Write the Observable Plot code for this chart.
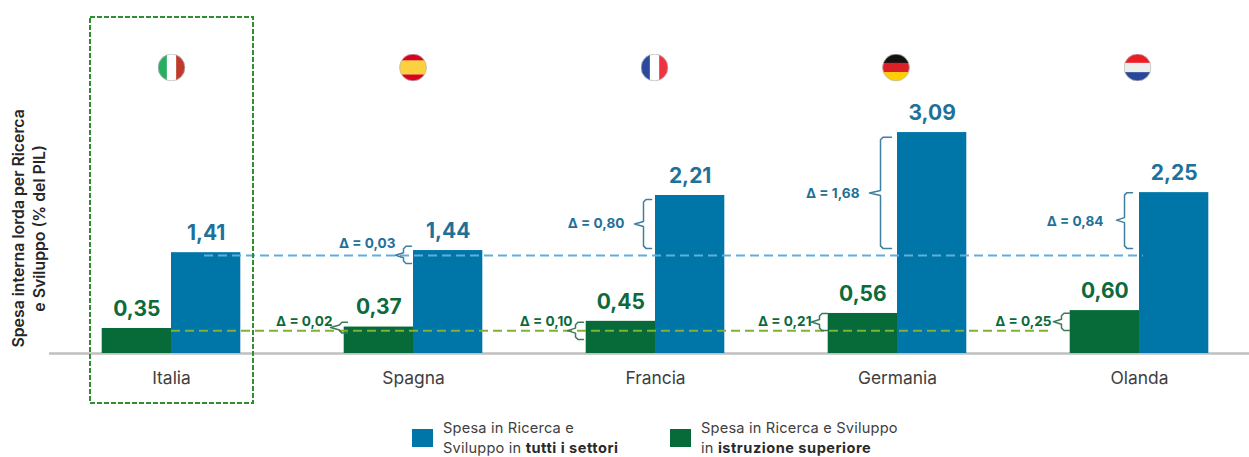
<!DOCTYPE html>
<html lang="it"><head><meta charset="utf-8">
<script src="https://cdn.jsdelivr.net/npm/d3@7"></script>
<script src="https://cdn.jsdelivr.net/npm/@observablehq/plot@0.6"></script>
<style>
html,body{margin:0;padding:0;background:#fff;width:1249px;height:457px;overflow:hidden}
body{font-family:Inter,"Noto Sans",sans-serif}
#chart svg{display:block;overflow:visible}
#legend{position:relative;height:47px;color:#404040;font-size:14.6px;line-height:20px;letter-spacing:.2px}
.sw{position:absolute;top:19px;width:21px;height:18px}
.lt{position:absolute;top:8px;white-space:nowrap}
.lt b{font-weight:700;color:#2a2a2a;letter-spacing:.5px}
</style></head><body>
<div id="chart"></div>
<div id="legend">
  <div class="sw" style="left:412px;background:#0076a8"></div>
  <div class="lt" style="left:443px">Spesa in Ricerca e<br>Sviluppo in <b>tutti i settori</b></div>
  <div class="sw" style="left:670px;background:#066b38"></div>
  <div class="lt" style="left:701px">Spesa in Ricerca e Sviluppo<br>in <b>istruzione superiore</b></div>
</div>
<script>
const countries = ["Italia","Spagna","Francia","Germania","Olanda"];
const allSectors = [1.41,1.44,2.21,3.09,2.25];
const higherEd = [0.35,0.37,0.45,0.56,0.60];
const deltaAll = ["Δ = 0,03","Δ = 0,80","Δ = 1,68","Δ = 0,84"];
const deltaHigher = ["Δ = 0,02","Δ = 0,10","Δ = 0,21","Δ = 0,25"];
const braceAllLow = [1.26,1.47,1.47,1.47];
const braceAllHigh = [1.50,2.155,3.025,2.25];
const braceHigherLow = [0.285,0.196,0.322,0.322];
const braceHigherHigh = [0.438,0.438,0.559,0.564];
const refAll = 1.37, refHigher = 0.317;
const flags = [
  {dir:"v",c:["#27ae60","#ffffff","#c0392b"]},
  {dir:"h",c:["#d8031c","#fcd13f","#d8031c"],w:[.25,.5,.25]},
  {dir:"v",c:["#2b4a9b","#ffffff","#ee3342"]},
  {dir:"h",c:["#111111","#dd1f26","#ffce00"]},
  {dir:"h",c:["#ee1c25","#eeeeee","#26479a"]}
];

const BLUE="#0076a8", GREEN="#066b38", BLUE_T="#1f7199", GREEN_T="#0d6a3c";
const pxU=242, barW=69.3/pxU;
const idx=countries.map((_,i)=>i);
const bars=idx.flatMap(i=>[
  {x1:i-barW,x2:i,v:higherEd[i],fill:GREEN,t:GREEN_T},
  {x1:i,x2:i+barW,v:allSectors[i],fill:BLUE,t:BLUE_T}
]);
const fmt=v=>v.toFixed(2).replace(".",",");

// brace geometry, offsets relative to each country's centre
const braceOffsetsAll=[[-2,-10,-18],[-4,-12,-21],[-6,-17,-28],[-7,-15,-23]];
const braceOffsetsHigher=[[-66,-74,-83],[-72,-80,-88],[-70,-78,-86],[-70,-78,-86]];
const labelAllRight=[-18,-31,-38,-36], labelAllY=[1.53,1.81,2.24,1.85];
const labelHigherRight=[-81,-83,-86,-88];
const labelHigherY=0.45;

function brace(id,i,off,lo,hi,tipY,color){
  const [r,m,t]=off.map(o=>i+o/pxU), c=2.5/71.5, cx=2.5/pxU;
  return [[r,hi],[m+cx,hi],[m,hi-c],[m,tipY+c],[t,tipY],[m,tipY-c],[m,lo+c],[m+cx,lo],[r,lo]]
    .map(([x,y])=>({id,x,y,color}));
}
const braces=[];
const tipsAll=[1.375,1.81,2.245,1.865], tipsHigher=[0.365,0.32,0.44,0.445];
[1,2,3,4].forEach((i,k)=>{
  braces.push(...brace("a"+i,i,braceOffsetsAll[k],braceAllLow[k],braceAllHigh[k],tipsAll[k],"#3f7f9f"));
  braces.push(...brace("h"+i,i,braceOffsetsHigher[k],braceHigherLow[k],braceHigherHigh[k],tipsHigher[k],"#3d7a55"));
});
const deltaRows=[1,2,3,4].flatMap((i,k)=>[
  {i,t:deltaAll[k],y:labelAllY[k],dx:labelAllRight[k],c:BLUE_T},
  {i,t:deltaHigher[k],y:labelHigherY,dx:labelHigherRight[k],c:GREEN_T}
]);

const flagUri=f=>{
  const w=f.w||[1/3,1/3,1/3];let p=0,s="";
  f.c.forEach((c,k)=>{const a=p*28,b=w[k]*28;p+=w[k];
    s+=f.dir==="v"?`<rect x="${a}" y="0" width="${b+.2}" height="28" fill="${c}"/>`:`<rect x="0" y="${a}" width="28" height="${b+.2}" fill="${c}"/>`;});
  return "data:image/svg+xml,"+encodeURIComponent(`<svg xmlns="http://www.w3.org/2000/svg" viewBox="0 0 28 28" width="28" height="28"><defs><clipPath id="c"><circle cx="14" cy="14" r="13.5"/></clipPath></defs><g clip-path="url(#c)">${s}</g><circle cx="14" cy="14" r="13.4" fill="none" stroke="#bbb" stroke-width=".8"/></svg>`);
};

const plot=Plot.plot({
  width:1249,height:410,margin:0,
  style:{background:"transparent",fontFamily:"Inter, 'Noto Sans', sans-serif"},
  x:{type:"linear",domain:[-171/pxU,(1249-171)/pxU],range:[0,1249],axis:null},
  y:{type:"linear",domain:[-57/71.5,353/71.5],range:[410,0],axis:null},
  marks:[
    Plot.ruleY([0],{x1:(49-171)/pxU,x2:(1249-171)/pxU,stroke:"#bfbfbf",strokeWidth:2.4}),
    Plot.rect(bars,{x1:"x1",x2:"x2",y1:0,y2:"v",fill:"fill"}),
    Plot.ruleY([refAll],{x1:(204-171)/pxU,x2:(1143-171)/pxU,stroke:"#62aedb",strokeWidth:2,strokeDasharray:"9 5"}),
    Plot.ruleY([refHigher],{x1:0,x2:(1053-171)/pxU,stroke:"#82b031",strokeWidth:2,strokeDasharray:"9 5"}),
    Plot.line(braces,{x:"x",y:"y",z:"id",stroke:"color",strokeWidth:1.5,curve:"linear"}),
    Plot.text(bars,{x:d=>(d.x1+d.x2)/2,y:"v",text:d=>fmt(d.v),fill:"t",dy:-19.5,fontSize:21,fontWeight:700,lineAnchor:"middle"}),
    ...deltaRows.map(d=>Plot.text([d],{x:"i",y:"y",text:"t",dx:d.dx,fill:"c",textAnchor:"end",fontSize:13.6,fontWeight:700,lineAnchor:"middle"})),
    Plot.text(idx,{x:d=>d,y:-25/71.5,text:d=>countries[d],fill:"#404040",fontSize:17.4,lineAnchor:"middle"}),
    Plot.image(idx,{x:d=>d*241.5/pxU,y:4,src:d=>flagUri(flags[d]),width:28,height:28}),
    Plot.text(["Spesa interna lorda per Ricerca\ne Sviluppo (% del PIL)"],{x:(27-171)/pxU,y:1.75,text:d=>d,rotate:-90,fontSize:15.8,fontWeight:600,fill:"#262626",lineHeight:1.33,lineAnchor:"middle"}),
    Plot.rect([0],{x1:(90-171)/pxU,x2:(253-171)/pxU,y1:(353-403)/71.5,y2:(353-17)/71.5,fill:"none",stroke:"#2f8f2f",strokeWidth:2,strokeDasharray:"5 2"})
  ]
});
document.getElementById("chart").append(plot);
</script>
</body></html>
